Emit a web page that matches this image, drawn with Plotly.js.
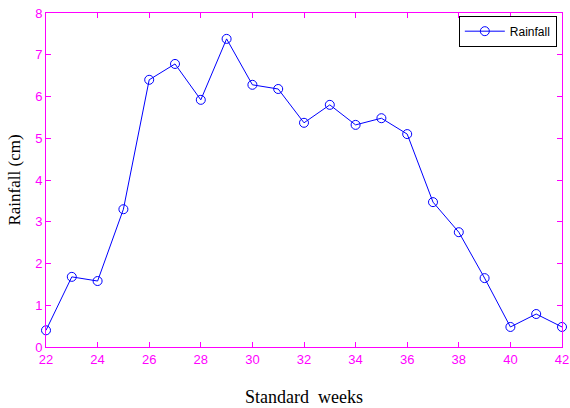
<!DOCTYPE html>
<html>
<head>
<meta charset="utf-8">
<script src="https://cdn.plot.ly/plotly-3.0.1.min.js"></script>
<style>html,body{margin:0;padding:0;background:#fff;}#chart{width:570px;height:408px;}</style>
</head>
<body>
<div id="chart"></div>
<script>
const weeks = [22,23,24,25,26,27,28,29,30,31,32,33,34,35,36,37,38,39,40,41,42];
const rainfall = [0.40,1.68,1.58,3.30,6.40,6.78,5.92,7.38,6.28,6.18,5.37,5.80,5.32,5.48,5.10,3.47,2.75,1.65,0.48,0.79,0.48];
const xTicks = [22,24,26,28,30,32,34,36,38,40,42];
const yTicks = [0,1,2,3,4,5,6,7,8];

const magenta = '#ff00ff';
const trace = {
  x: weeks, y: rainfall, type: 'scatter', mode: 'lines+markers', name: 'Rainfall',
  line: {color: '#0000ff', width: 1},
  marker: {symbol: 'circle-open', size: 9, color: '#0000ff', line: {width: 1}},
  cliponaxis: false
};
const axisCommon = {
  showline: true, linecolor: magenta, linewidth: 1, mirror: 'ticks',
  ticks: 'inside', ticklen: 5, tickcolor: magenta, tickwidth: 1,
  showgrid: false, zeroline: false, ticklabeloverflow: 'allow',
  tickfont: {family: 'Liberation Sans, Arial', size: 13, color: magenta}
};
const layout = {
  width: 570, height: 408,
  margin: {l: 46, r: 8, t: 13, b: 61},
  paper_bgcolor: '#fff', plot_bgcolor: '#fff',
  showlegend: true,
  legend: {x: 0.99, y: 0.992, xanchor: 'right', yanchor: 'top',
    bordercolor: '#000', borderwidth: 1, bgcolor: '#fff', itemwidth: 40,
    font: {family: 'Liberation Sans, Arial', size: 12, color: '#000'}},
  xaxis: Object.assign({}, axisCommon, {range: [22, 42], tickvals: xTicks,
    title: {text: 'Standard&nbsp;&nbsp;weeks', standoff: 24,
      font: {family: 'Liberation Serif, Times New Roman', size: 18, color: '#000'}}}),
  yaxis: Object.assign({}, axisCommon, {range: [0, 8], tickvals: yTicks,
    title: {text: 'Rainfall (cm)', standoff: 10,
      font: {family: 'Liberation Serif, Times New Roman', size: 17, color: '#000'}}})
};
Plotly.newPlot('chart', [trace], layout, {staticPlot: true, displayModeBar: false});
</script>
</body>
</html>
